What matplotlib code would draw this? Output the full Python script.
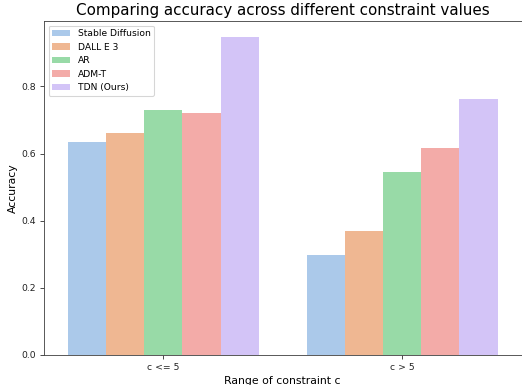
import matplotlib
matplotlib.use("Agg")
import matplotlib.pyplot as plt
import seaborn as sns
import numpy as np

categories = ["c <= 5", "c > 5"]
models = ["Stable Diffusion", "DALL E 3", "AR", "ADM-T", "TDN (Ours)"]
sd = [0.636, 0.299]
dalle = [0.662, 0.369]
ar = [0.730, 0.544]
admt = [0.721, 0.616]
tdn = [0.948, 0.763]
values = [sd, dalle, ar, admt, tdn]

colors = [sns.desaturate(c, 0.75) for c in sns.color_palette("pastel")[:5]]

DPI = 78
fig = plt.figure(figsize=(522 / DPI, 385 / DPI), dpi=DPI)
ax = fig.add_axes([44 / 522, 30 / 385, 477.5 / 522, 334 / 385])

n = len(models)
width = 0.8 / n
x = np.arange(len(categories))
for i, (m, v) in enumerate(zip(models, values)):
    ax.bar(x - 0.4 + width * (i + 0.5), v, width, color=colors[i], label=m)

ax.set_xlim(-0.5, 1.5)
ax.set_ylim(0, 0.995)
ax.set_xticks(x)
ax.set_xticklabels(categories)
ax.set_yticks([0.0, 0.2, 0.4, 0.6, 0.8])
ax.tick_params(labelsize=8.5, colors="#333333")
ax.tick_params(axis="both", labelcolor="#222222")
for s in ax.spines.values():
    s.set_color("#444444")
ax.set_xlabel("Range of constraint c", fontsize=10)
ax.set_ylabel("Accuracy", fontsize=10)
ax.set_title("Comparing accuracy across different constraint values", fontsize=14)
ax.legend(loc="upper left", fontsize=8.4)

fig.savefig("out.png", dpi=DPI)
